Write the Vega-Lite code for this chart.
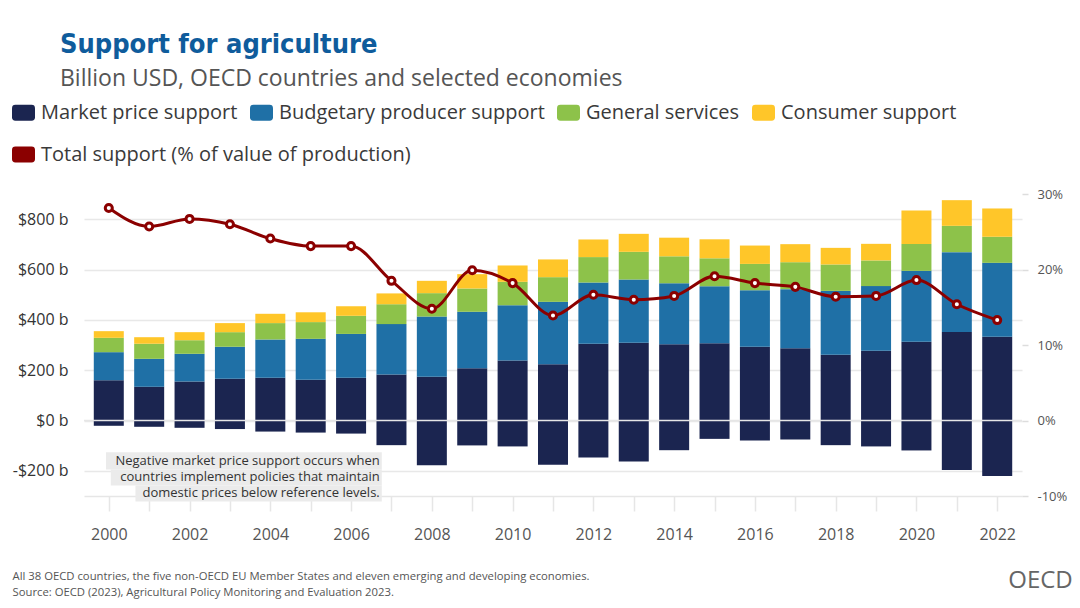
{
  "$schema": "https://vega.github.io/schema/vega-lite/v6.json",
  "width": 938,
  "height": 302,
  "autosize": {"type": "none"},
  "padding": {"left": 84, "top": 194, "right": 58, "bottom": 112},
  "background": "white",
  "title": {
    "text": "Support for agriculture",
    "subtitle": "Billion USD, OECD countries and selected economies",
    "anchor": "start",
    "frame": "group",
    "dx": -24,
    "font": "DejaVu Sans Condensed, Roboto, sans-serif",
    "fontSize": 27,
    "fontWeight": "bold",
    "color": "#0f5c9c",
    "subtitleFont": "Open Sans",
    "subtitleFontSize": 23,
    "subtitleColor": "#555555",
    "subtitlePadding": 9,
    "offset": 9
  },
  "config": {
    "view": {"stroke": null},
    "font": "Open Sans",
    "legend": {
      "labelFont": "Open Sans",
      "labelFontSize": 20,
      "labelColor": "#3a3a3a",
      "labelLimit": 600,
      "labelOffset": 6,
      "columnPadding": 12,
      "symbolType": "M-0.7,-0.7L0.7,-0.7Q1,-0.7,1,-0.4L1,0.4Q1,0.7,0.7,0.7L-0.7,0.7Q-1,0.7,-1,0.4L-1,-0.4Q-1,-0.7,-0.7,-0.7Z",
      "symbolSize": 529,
      "symbolStrokeWidth": 0
    }
  },
  "datasets": {
    "bars": [
      {"year": 2000, "component": "Market price support", "value": 160},
      {"year": 2000, "component": "Market price support", "value": -21},
      {"year": 2000, "component": "Budgetary producer support", "value": 111.5},
      {"year": 2000, "component": "General services", "value": 57},
      {"year": 2000, "component": "Consumer support", "value": 26.5},
      {"year": 2001, "component": "Market price support", "value": 134},
      {"year": 2001, "component": "Market price support", "value": -25},
      {"year": 2001, "component": "Budgetary producer support", "value": 111},
      {"year": 2001, "component": "General services", "value": 60},
      {"year": 2001, "component": "Consumer support", "value": 26},
      {"year": 2002, "component": "Market price support", "value": 155},
      {"year": 2002, "component": "Market price support", "value": -29},
      {"year": 2002, "component": "Budgetary producer support", "value": 110},
      {"year": 2002, "component": "General services", "value": 54},
      {"year": 2002, "component": "Consumer support", "value": 32},
      {"year": 2003, "component": "Market price support", "value": 165.5},
      {"year": 2003, "component": "Market price support", "value": -34},
      {"year": 2003, "component": "Budgetary producer support", "value": 127.5},
      {"year": 2003, "component": "General services", "value": 58},
      {"year": 2003, "component": "Consumer support", "value": 36},
      {"year": 2004, "component": "Market price support", "value": 169.5},
      {"year": 2004, "component": "Market price support", "value": -44},
      {"year": 2004, "component": "Budgetary producer support", "value": 152.5},
      {"year": 2004, "component": "General services", "value": 65},
      {"year": 2004, "component": "Consumer support", "value": 37},
      {"year": 2005, "component": "Market price support", "value": 161.5},
      {"year": 2005, "component": "Market price support", "value": -48},
      {"year": 2005, "component": "Budgetary producer support", "value": 163},
      {"year": 2005, "component": "General services", "value": 66.5},
      {"year": 2005, "component": "Consumer support", "value": 39},
      {"year": 2006, "component": "Market price support", "value": 169.5},
      {"year": 2006, "component": "Market price support", "value": -52},
      {"year": 2006, "component": "Budgetary producer support", "value": 174.5},
      {"year": 2006, "component": "General services", "value": 72},
      {"year": 2006, "component": "Consumer support", "value": 38},
      {"year": 2007, "component": "Market price support", "value": 183},
      {"year": 2007, "component": "Market price support", "value": -98},
      {"year": 2007, "component": "Budgetary producer support", "value": 200},
      {"year": 2007, "component": "General services", "value": 79},
      {"year": 2007, "component": "Consumer support", "value": 43},
      {"year": 2008, "component": "Market price support", "value": 173.5},
      {"year": 2008, "component": "Market price support", "value": -177.5},
      {"year": 2008, "component": "Budgetary producer support", "value": 239.5},
      {"year": 2008, "component": "General services", "value": 93},
      {"year": 2008, "component": "Consumer support", "value": 49},
      {"year": 2009, "component": "Market price support", "value": 208},
      {"year": 2009, "component": "Market price support", "value": -99},
      {"year": 2009, "component": "Budgetary producer support", "value": 224},
      {"year": 2009, "component": "General services", "value": 92.5},
      {"year": 2009, "component": "Consumer support", "value": 57},
      {"year": 2010, "component": "Market price support", "value": 238},
      {"year": 2010, "component": "Market price support", "value": -103},
      {"year": 2010, "component": "Budgetary producer support", "value": 220},
      {"year": 2010, "component": "General services", "value": 93},
      {"year": 2010, "component": "Consumer support", "value": 65},
      {"year": 2011, "component": "Market price support", "value": 224},
      {"year": 2011, "component": "Market price support", "value": -176},
      {"year": 2011, "component": "Budgetary producer support", "value": 247.5},
      {"year": 2011, "component": "General services", "value": 98},
      {"year": 2011, "component": "Consumer support", "value": 70.5},
      {"year": 2012, "component": "Market price support", "value": 304.6},
      {"year": 2012, "component": "Market price support", "value": -147},
      {"year": 2012, "component": "Budgetary producer support", "value": 243.7},
      {"year": 2012, "component": "General services", "value": 101},
      {"year": 2012, "component": "Consumer support", "value": 70},
      {"year": 2013, "component": "Market price support", "value": 308.6},
      {"year": 2013, "component": "Market price support", "value": -163},
      {"year": 2013, "component": "Budgetary producer support", "value": 251.6},
      {"year": 2013, "component": "General services", "value": 110},
      {"year": 2013, "component": "Consumer support", "value": 71.5},
      {"year": 2014, "component": "Market price support", "value": 303},
      {"year": 2014, "component": "Market price support", "value": -118},
      {"year": 2014, "component": "Budgetary producer support", "value": 242.4},
      {"year": 2014, "component": "General services", "value": 107},
      {"year": 2014, "component": "Consumer support", "value": 74},
      {"year": 2015, "component": "Market price support", "value": 307},
      {"year": 2015, "component": "Market price support", "value": -73},
      {"year": 2015, "component": "Budgetary producer support", "value": 226.5},
      {"year": 2015, "component": "General services", "value": 111},
      {"year": 2015, "component": "Consumer support", "value": 75.5},
      {"year": 2016, "component": "Market price support", "value": 292.7},
      {"year": 2016, "component": "Market price support", "value": -79.5},
      {"year": 2016, "component": "Budgetary producer support", "value": 225},
      {"year": 2016, "component": "General services", "value": 104.5},
      {"year": 2016, "component": "Consumer support", "value": 73},
      {"year": 2017, "component": "Market price support", "value": 287.4},
      {"year": 2017, "component": "Market price support", "value": -75.5},
      {"year": 2017, "component": "Budgetary producer support", "value": 234.6},
      {"year": 2017, "component": "General services", "value": 107},
      {"year": 2017, "component": "Consumer support", "value": 71.7},
      {"year": 2018, "component": "Market price support", "value": 261},
      {"year": 2018, "component": "Market price support", "value": -98},
      {"year": 2018, "component": "Budgetary producer support", "value": 254},
      {"year": 2018, "component": "General services", "value": 105},
      {"year": 2018, "component": "Consumer support", "value": 66},
      {"year": 2019, "component": "Market price support", "value": 277},
      {"year": 2019, "component": "Market price support", "value": -103},
      {"year": 2019, "component": "Budgetary producer support", "value": 257},
      {"year": 2019, "component": "General services", "value": 102},
      {"year": 2019, "component": "Consumer support", "value": 66},
      {"year": 2020, "component": "Market price support", "value": 312.6},
      {"year": 2020, "component": "Market price support", "value": -119},
      {"year": 2020, "component": "Budgetary producer support", "value": 282},
      {"year": 2020, "component": "General services", "value": 107},
      {"year": 2020, "component": "Consumer support", "value": 132.5},
      {"year": 2021, "component": "Market price support", "value": 352},
      {"year": 2021, "component": "Market price support", "value": -197},
      {"year": 2021, "component": "Budgetary producer support", "value": 317},
      {"year": 2021, "component": "General services", "value": 104.5},
      {"year": 2021, "component": "Consumer support", "value": 102},
      {"year": 2022, "component": "Market price support", "value": 332.5},
      {"year": 2022, "component": "Market price support", "value": -221},
      {"year": 2022, "component": "Budgetary producer support", "value": 294},
      {"year": 2022, "component": "General services", "value": 103.5},
      {"year": 2022, "component": "Consumer support", "value": 112.5}
    ],
    "pct": [
      {"year": 2000, "series": "Total support (% of value of production)", "pct": 28.15},
      {"year": 2001, "series": "Total support (% of value of production)", "pct": 25.7},
      {"year": 2002, "series": "Total support (% of value of production)", "pct": 26.7},
      {"year": 2003, "series": "Total support (% of value of production)", "pct": 26.0},
      {"year": 2004, "series": "Total support (% of value of production)", "pct": 24.1},
      {"year": 2005, "series": "Total support (% of value of production)", "pct": 23.1},
      {"year": 2006, "series": "Total support (% of value of production)", "pct": 23.1},
      {"year": 2007, "series": "Total support (% of value of production)", "pct": 18.5},
      {"year": 2008, "series": "Total support (% of value of production)", "pct": 14.8},
      {"year": 2009, "series": "Total support (% of value of production)", "pct": 19.9},
      {"year": 2010, "series": "Total support (% of value of production)", "pct": 18.2},
      {"year": 2011, "series": "Total support (% of value of production)", "pct": 13.9},
      {"year": 2012, "series": "Total support (% of value of production)", "pct": 16.65},
      {"year": 2013, "series": "Total support (% of value of production)", "pct": 16.0},
      {"year": 2014, "series": "Total support (% of value of production)", "pct": 16.5},
      {"year": 2015, "series": "Total support (% of value of production)", "pct": 19.1},
      {"year": 2016, "series": "Total support (% of value of production)", "pct": 18.2},
      {"year": 2017, "series": "Total support (% of value of production)", "pct": 17.7},
      {"year": 2018, "series": "Total support (% of value of production)", "pct": 16.4},
      {"year": 2019, "series": "Total support (% of value of production)", "pct": 16.5},
      {"year": 2020, "series": "Total support (% of value of production)", "pct": 18.6},
      {"year": 2021, "series": "Total support (% of value of production)", "pct": 15.4},
      {"year": 2022, "series": "Total support (% of value of production)", "pct": 13.3}
    ],
    "note": [
      {"label": "Negative market price support occurs when", "x1": 1999.93, "x2": 2006.76, "y1": -126.5, "y2": -194.3, "xt": 2006.71, "yt": -160.5},
      {"label": "countries implement policies that maintain", "x1": 2000.05, "x2": 2006.76, "y1": -194.3, "y2": -258, "xt": 2006.71, "yt": -226.3},
      {"label": "domestic prices below reference levels.", "x1": 2000.66, "x2": 2006.76, "y1": -258, "y2": -322, "xt": 2006.71, "yt": -290}
    ]
  },
  "layer": [
    {
      "data": {"name": "bars"},
      "transform": [
        {"calculate": "indexof(['Market price support', 'Budgetary producer support', 'General services', 'Consumer support'], datum.component)", "as": "stackRank"}
      ],
      "mark": {"type": "bar", "width": 30},
      "encoding": {
        "x": {
          "field": "year",
          "type": "quantitative",
          "scale": {"domain": [1999.51, 2022.49], "nice": false, "zero": false},
          "axis": {
            "values": [2000, 2001, 2002, 2003, 2004, 2005, 2006, 2007, 2008, 2009, 2010, 2011, 2012, 2013, 2014, 2015, 2016, 2017, 2018, 2019, 2020, 2021, 2022],
            "labelExpr": "datum.value % 2 === 0 ? '' + datum.value : ''",
            "grid": false,
            "domainColor": "#e6e6e6",
            "domainWidth": 1.5,
            "tickColor": "#e6e6e6",
            "tickWidth": 1.5,
            "tickSize": 15,
            "labelFont": "Open Sans",
            "labelFontSize": 16,
            "labelColor": "#555555",
            "labelPadding": 15,
            "labelFlush": false,
            "labelOverlap": false,
            "title": ["All 38 OECD countries, the five non-OECD EU Member States and eleven emerging and developing economies.", "Source: OECD (2023), Agricultural Policy Monitoring and Evaluation 2023."],
            "titleX": -72,
            "titleY": 83,
            "titleAlign": "left",
            "titleAnchor": "start",
            "titleBaseline": "alphabetic",
            "titleFont": "Open Sans",
            "titleFontSize": 11.3,
            "titleFontWeight": "normal",
            "titleColor": "#555555",
            "titleLineHeight": 16
          }
        },
        "y": {
          "field": "value",
          "type": "quantitative",
          "stack": "zero",
          "scale": {"domain": [-300, 900], "nice": false, "zero": false},
          "axis": {
            "orient": "left",
            "values": [-200, 0, 200, 400, 600, 800],
            "grid": true,
            "gridColor": "#e8e8e8",
            "gridWidth": 1.5,
            "domain": false,
            "ticks": false,
            "labelPadding": 16,
            "labelFont": "Open Sans",
            "labelFontSize": 16,
            "labelColor": "#333333",
            "labelExpr": "datum.value < 0 ? '-$' + abs(datum.value) + ' b' : '$' + datum.value + ' b'",
            "title": null
          }
        },
        "order": {"field": "stackRank", "type": "quantitative", "sort": "ascending"},
        "color": {
          "field": "component",
          "type": "nominal",
          "sort": ["Market price support", "Budgetary producer support", "General services", "Consumer support"],
          "scale": {
            "domain": ["Market price support", "Budgetary producer support", "General services", "Consumer support"],
            "range": ["#1b2550", "#1f70a6", "#8dc24a", "#ffc629"]
          },
          "legend": {
            "orient": "none",
            "legendX": -72,
            "legendY": -93,
            "direction": "horizontal",
            "columns": 4,
            "title": null
          }
        }
      }
    },
    {
      "data": {"values": [{}]},
      "mark": {"type": "rule", "color": "#e6e6e6", "strokeWidth": 1.5},
      "encoding": {
        "y": {"datum": 0, "type": "quantitative", "scale": {"domain": [-300, 900], "nice": false, "zero": false}, "axis": null}
      }
    },
    {
      "data": {"name": "note"},
      "mark": {"type": "rect", "color": "#ebebeb"},
      "encoding": {
        "x": {"field": "x1", "type": "quantitative", "scale": {"domain": [1999.51, 2022.49], "nice": false, "zero": false}},
        "x2": {"field": "x2"},
        "y": {"field": "y1", "type": "quantitative", "scale": {"domain": [-300, 900], "nice": false, "zero": false}, "axis": null},
        "y2": {"field": "y2"}
      }
    },
    {
      "data": {"name": "note"},
      "mark": {"type": "text", "align": "right", "baseline": "middle", "font": "Open Sans", "fontSize": 13, "color": "#333333"},
      "encoding": {
        "x": {"field": "xt", "type": "quantitative", "scale": {"domain": [1999.51, 2022.49], "nice": false, "zero": false}},
        "y": {"field": "yt", "type": "quantitative", "scale": {"domain": [-300, 900], "nice": false, "zero": false}, "axis": null},
        "text": {"field": "label"}
      }
    },
    {
      "data": {"name": "pct"},
      "mark": {"type": "line", "interpolate": "monotone", "strokeWidth": 3},
      "encoding": {
        "x": {"field": "year", "type": "quantitative", "scale": {"domain": [1999.51, 2022.49], "nice": false, "zero": false}},
        "y": {
          "field": "pct",
          "type": "quantitative",
          "scale": {"domain": [-10, 30], "nice": false, "zero": false},
          "axis": {
            "orient": "right",
            "values": [-10, 0, 10, 20, 30],
            "grid": false,
            "domain": false,
            "ticks": true,
            "tickColor": "#dddddd",
            "tickSize": 6,
            "tickWidth": 1.5,
            "labelPadding": 9,
            "labelFont": "Open Sans",
            "labelFontSize": 13,
            "labelColor": "#555555",
            "labelExpr": "datum.value + '%'",
            "title": "OECD",
            "titleAngle": 0,
            "titleX": 18,
            "titleY": 386,
            "titleAlign": "center",
            "titleBaseline": "middle",
            "titleFont": "Open Sans",
            "titleFontSize": 24,
            "titleFontWeight": "normal",
            "titleColor": "#666666"
          }
        },
        "color": {
          "field": "series",
          "type": "nominal",
          "scale": {"range": ["#8b0000"]},
          "legend": {
            "orient": "none",
            "legendX": -72,
            "legendY": -51,
            "title": null,
            "symbolType": "M-0.7,-0.7L0.7,-0.7Q1,-0.7,1,-0.4L1,0.4Q1,0.7,0.7,0.7L-0.7,0.7Q-1,0.7,-1,0.4L-1,-0.4Q-1,-0.7,-0.7,-0.7Z",
            "symbolFillColor": "#8b0000",
            "symbolStrokeColor": "#8b0000",
            "symbolStrokeWidth": 0
          }
        }
      }
    },
    {
      "data": {"name": "pct"},
      "mark": {"type": "point", "filled": true, "fill": "white", "stroke": "#8b0000", "strokeWidth": 3, "size": 50, "opacity": 1},
      "encoding": {
        "x": {"field": "year", "type": "quantitative", "scale": {"domain": [1999.51, 2022.49], "nice": false, "zero": false}},
        "y": {"field": "pct", "type": "quantitative", "scale": {"domain": [-10, 30], "nice": false, "zero": false}, "axis": null}
      }
    }
  ],
  "resolve": {"scale": {"y": "independent", "color": "independent"}, "axis": {"y": "independent"}}
}
